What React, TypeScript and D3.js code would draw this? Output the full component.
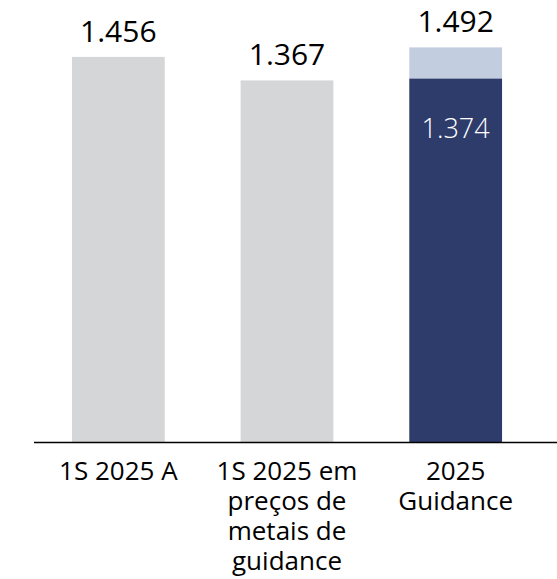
import React, { useEffect, useRef } from 'react'
import * as d3 from 'd3'

// categories and values
const categories = ['1S 2025 A', '1S 2025 em preços de metais de guidance', '2025 Guidance']
const categoryLines = [['1S 2025 A'], ['1S 2025 em', 'preços de', 'metais de', 'guidance'], ['2025', 'Guidance']]
const baseValues = [1.456, 1.367, 1.374]
const topValues = [1.456, 1.367, 1.492]
const totalLabels = ['1.456', '1.367', '1.492']
const innerLabels = ['', '', '1.374']

const width = 557
const height = 579

export default function App() {
  const ref = useRef<SVGSVGElement>(null)

  useEffect(() => {
    const node = ref.current
    if (!node) return
    const svg = d3.select(node)
    svg.selectAll('*').remove()

    const baseline = 442
    const x = d3.scaleBand<string>()
      .domain(categories)
      .range([34, 540])
      .paddingInner(0.45)
      .paddingOuter(0.225)

    const y = d3.scaleLinear()
      .domain([0, 1.5])
      .range([baseline, baseline - 1.5 * 264.5])

    const data = categories.map((c, i) => ({
      cat: c,
      base: baseValues[i],
      top: topValues[i],
      total: totalLabels[i],
      inner: innerLabels[i],
      lines: categoryLines[i],
      guidance: i === 2,
    }))

    // upper (range) part for guidance bar
    svg.append('g')
      .selectAll('rect')
      .data(data.filter(d => d.guidance))
      .join('rect')
      .attr('x', d => x(d.cat)!)
      .attr('width', x.bandwidth())
      .attr('y', d => y(d.top))
      .attr('height', d => y(d.base) - y(d.top))
      .attr('fill', '#c3cde0')

    svg.append('g')
      .selectAll('rect')
      .data(data)
      .join('rect')
      .attr('x', d => x(d.cat)!)
      .attr('width', x.bandwidth())
      .attr('y', d => y(d.base))
      .attr('height', d => y(0) - y(d.base))
      .attr('fill', d => d.guidance ? '#2e3c6c' : '#d5d6d8')

    // axis line
    svg.append('line')
      .attr('x1', 34)
      .attr('x2', width)
      .attr('y1', baseline + 0.5)
      .attr('y2', baseline + 0.5)
      .attr('stroke', '#000')
      .attr('stroke-width', 1.5)

    // total labels
    svg.append('g')
      .selectAll('text')
      .data(data)
      .join('text')
      .attr('x', d => x(d.cat)! + x.bandwidth() / 2)
      .attr('y', d => y(d.top) - 15)
      .attr('text-anchor', 'middle')
      .attr('font-family', 'Open Sans')
      .attr('font-size', 30)
      .attr('fill', '#000')
      .text(d => d.total)

    // inner label
    svg.append('g')
      .selectAll('text')
      .data(data.filter(d => d.inner))
      .join('text')
      .attr('x', d => x(d.cat)! + x.bandwidth() / 2)
      .attr('y', d => y(d.base) + 59)
      .attr('text-anchor', 'middle')
      .attr('font-family', 'Open Sans')
      .attr('font-weight', 300)
      .attr('font-size', 27)
      .attr('fill', '#fff')
      .text(d => d.inner)

    // category labels
    const cat = svg.append('g')
      .selectAll('text')
      .data(data)
      .join('text')
      .attr('text-anchor', 'middle')
      .attr('font-family', 'Open Sans')
      .attr('font-size', 26)
      .attr('fill', '#000')
    cat.selectAll('tspan')
      .data(d => d.lines.map(l => ({ l, cx: x(d.cat)! + x.bandwidth() / 2 })))
      .join('tspan')
      .attr('x', d => d.cx)
      .attr('y', (d, i) => 480 + i * 30)
      .text(d => d.l)
  }, [])

  return (
    <div style={{ position: 'absolute', left: 0, top: 0 }}>
      <svg ref={ref} width={width} height={height} style={{ display: 'block', background: '#fff' }} />
    </div>
  )
}
